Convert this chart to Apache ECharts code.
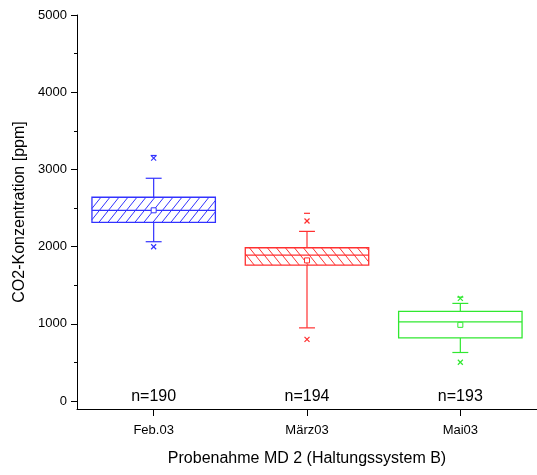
<!DOCTYPE html>
<html>
<head>
<meta charset="utf-8">
<script src="https://cdn.jsdelivr.net/npm/echarts@6/dist/echarts.min.js"></script>
<style>html,body{margin:0;padding:0;background:#fff}#c{width:537px;height:475px}</style>
</head>
<body>
<div id="c"></div>
<script>
var categories = ['Feb.03', 'März03', 'Mai03'];
var nLabels = ['n=190', 'n=194', 'n=193'];
var q1 = [2314, 1760, 817];
var median = [2470, 1890, 1025];
var q3 = [2639, 1985, 1160];
var whiskerLow = [2063, 947, 628];
var whiskerHigh = [2885, 2197, 1264];
var mean = [2470, 1821, 986];
var p1 = [1998, 797, 502];
var p99 = [3145, 2331, 1329];
var maxV = [3180, 2431, 1345];
var yMajorTicks = [0, 1000, 2000, 3000, 4000, 5000];
var yMinorTicks = [500, 1500, 2500, 3500, 4500];
var xTicks = [1, 2, 3];

var colors = ['#3232ff', '#ff3030', '#30e830'];
var hatch = ['/', '\\', ''];

var data = categories.map(function (c, i) {
  return [i + 1, q1[i], median[i], q3[i], whiskerLow[i], whiskerHigh[i], mean[i], p1[i], p99[i], maxV[i], i];
});

function crossMark(x, y, col) {
  var s = 2.5;
  return [
    {type: 'line', shape: {x1: x - s, y1: y - s, x2: x + s, y2: y + s}, style: {stroke: col, lineWidth: 1.2}},
    {type: 'line', shape: {x1: x - s, y1: y + s, x2: x + s, y2: y - s}, style: {stroke: col, lineWidth: 1.2}}
  ];
}

function renderItem(params, api) {
  var x = api.value(0);
  var idx = api.value(10);
  var col = colors[idx];
  var cx = api.coord([x, 0])[0];
  var halfW = api.size([0.805, 0])[0] / 2;
  var capW = api.size([0.104, 0])[0] / 2;
  var yq1 = api.coord([x, api.value(1)])[1];
  var ymed = api.coord([x, api.value(2)])[1];
  var yq3 = api.coord([x, api.value(3)])[1];
  var ywl = api.coord([x, api.value(4)])[1];
  var ywh = api.coord([x, api.value(5)])[1];
  var ymean = api.coord([x, api.value(6)])[1];
  var yp1 = api.coord([x, api.value(7)])[1];
  var yp99 = api.coord([x, api.value(8)])[1];
  var ymax = api.coord([x, api.value(9)])[1];
  var y0 = api.coord([x, 0])[1];
  var xL = cx - halfW, xR = cx + halfW;
  var ch = [];
  var ls = {stroke: col, lineWidth: 1.2};
  ch.push({type: 'line', shape: {x1: cx, y1: yq3, x2: cx, y2: ywh}, style: ls});
  ch.push({type: 'line', shape: {x1: cx, y1: yq1, x2: cx, y2: ywl}, style: ls});
  ch.push({type: 'line', shape: {x1: cx - capW, y1: ywh, x2: cx + capW, y2: ywh}, style: ls});
  ch.push({type: 'line', shape: {x1: cx - capW, y1: ywl, x2: cx + capW, y2: ywl}, style: ls});
  var h = yq1 - yq3;
  var k = 0.8, step = 9;
  if (hatch[idx]) {
    for (var c = xL - k * h; c < xR; c += step) {
      var tmin = Math.max(0, (xL - c) / k);
      var tmax = Math.min(h, (xR - c) / k);
      if (tmin < tmax) {
        if (hatch[idx] === '/') {
          ch.push({type: 'line', shape: {x1: c + k * tmin, y1: yq1 - tmin, x2: c + k * tmax, y2: yq1 - tmax}, style: {stroke: col, lineWidth: 1}});
        } else {
          ch.push({type: 'line', shape: {x1: c + k * tmin, y1: yq3 + tmin, x2: c + k * tmax, y2: yq3 + tmax}, style: {stroke: col, lineWidth: 1}});
        }
      }
    }
  }
  ch.push({type: 'rect', shape: {x: xL, y: yq3, width: xR - xL, height: h}, style: {fill: 'none', stroke: col, lineWidth: 1.3}});
  ch.push({type: 'line', shape: {x1: xL, y1: ymed, x2: xR, y2: ymed}, style: {stroke: col, lineWidth: 1.3}});
  ch.push({type: 'rect', shape: {x: cx - 2.5, y: ymean - 2.5, width: 5, height: 5}, style: {fill: '#fff', stroke: col, lineWidth: 1}});
  ch = ch.concat(crossMark(cx, yp1, col));
  ch = ch.concat(crossMark(cx, yp99, col));
  ch.push({type: 'line', shape: {x1: cx - 3, y1: ymax, x2: cx + 3, y2: ymax}, style: {stroke: col, lineWidth: 1.2}});
  ch.push({type: 'text', style: {text: nLabels[idx], x: cx, y: y0 - 4, align: 'center', verticalAlign: 'middle', fill: '#000', font: '16px Arial, "Liberation Sans", sans-serif'}});
  return {type: 'group', children: ch};
}

var chart = echarts.init(document.getElementById('c'), null, {renderer: 'canvas'});
var font = 'Arial, "Liberation Sans", sans-serif';
chart.setOption({
  animation: false,
  backgroundColor: '#fff',
  grid: {left: 77, top: 15, right: -3, bottom: 66},
  xAxis: {
    type: 'value', min: 0.5, max: 3.5,
    name: 'Probenahme MD 2 (Haltungssystem B)',
    nameLocation: 'middle', nameGap: 42,
    nameTextStyle: {fontSize: 16, color: '#000', fontFamily: font},
    axisLine: {show: true, onZero: false, lineStyle: {color: '#000', width: 1}},
    axisTick: {show: true, length: 7, customValues: xTicks, lineStyle: {color: '#000'}},
    axisLabel: {customValues: xTicks, margin: 15, fontSize: 13, color: '#000', fontFamily: font,
      formatter: function (v) { return categories[Math.round(v) - 1] || ''; }},
    splitLine: {show: false}
  },
  yAxis: [{
    type: 'value', min: -104, max: 5000, position: 'left',
    name: 'CO2-Konzentration [ppm]', nameLocation: 'middle', nameGap: 48,
    nameTextStyle: {fontSize: 16, color: '#000', fontFamily: font},
    axisLine: {show: true, onZero: false, lineStyle: {color: '#000', width: 1}},
    axisTick: {show: true, length: 6, customValues: yMajorTicks, lineStyle: {color: '#000'}},
    axisLabel: {customValues: yMajorTicks, margin: 10, fontSize: 13, color: '#000', fontFamily: font,
      formatter: function (v) { return String(Math.round(v)); }},
    splitLine: {show: false}
  }, {
    type: 'value', min: -104, max: 5000, position: 'left', offset: 0,
    axisLine: {show: false, onZero: false},
    axisTick: {show: true, length: 3, customValues: yMinorTicks, lineStyle: {color: '#000'}},
    axisLabel: {show: false},
    splitLine: {show: false}
  }],
  series: [{
    type: 'custom',
    renderItem: renderItem,
    data: data,
    encode: {x: 0, y: [1, 2, 3, 4, 5, 6, 7, 8, 9]},
    clip: false,
    z: 10
  }]
});
</script>
</body>
</html>
